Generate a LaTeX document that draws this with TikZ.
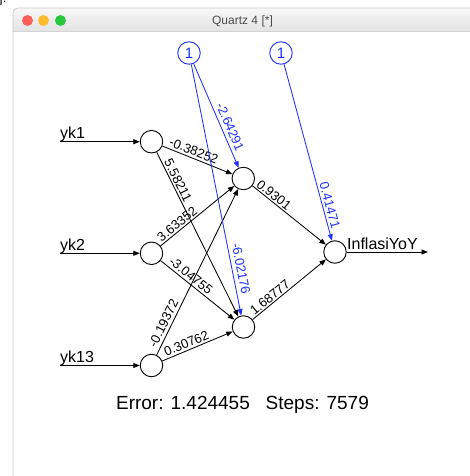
\documentclass[tikz,border=0pt]{standalone}
\usepackage{fontspec}
\setmainfont{Liberation Sans}
\usetikzlibrary{arrows.meta}
\definecolor{tlred}{HTML}{FC5F57}
\definecolor{tlyellow}{HTML}{FDBC2E}
\definecolor{tlgreen}{HTML}{2AC840}
\definecolor{rblue}{HTML}{1E32FF}
\begin{document}
\begin{tikzpicture}[x=1pt,y=-1pt,
  neuron/.style={circle, draw=black, line width=0.9pt, minimum size=22.5pt, inner sep=0pt, fill=white},
  biasnode/.style={circle, draw=rblue, text=rblue, line width=0.9pt, minimum size=22.5pt, inner sep=0pt, fill=white, font=\fontsize{15}{15}\selectfont},
  conn/.style={line width=0.85pt, -{Triangle[length=6.5pt,width=5pt]}},
  bconn/.style={conn, draw=rblue},
  wt/.style={sloped, inner sep=0pt, font=\fontsize{13}{13}\selectfont},
  bwt/.style={wt, text=rblue},
  io/.style={font=\fontsize{16}{16}\selectfont, inner sep=0pt, anchor=base west}
]
\useasboundingbox (0,0) rectangle (470,476);
\fill[white] (0,0) rectangle (470,476);
% window chrome
\node[anchor=base west, inner sep=0pt, font=\fontsize{13}{13}\selectfont] (frag) at (-1,2.5) {]:};
\shade[top color=gray!6, bottom color=gray!22] (13,31) [rounded corners=5pt] -- (13,8) -- (485,8) [sharp corners] -- (485,31) -- cycle;
\draw[gray!40, line width=0.8pt] (13,476) [rounded corners=5pt] -- (13,8) -- (485,8);
\draw[gray!35, line width=0.6pt] (13,31) -- (470,31);
\fill[tlred] (27.5,20.5) circle (5.5pt);
\fill[tlyellow] (43.5,20.5) circle (5.5pt);
\fill[tlgreen] (60.5,20.5) circle (5.5pt);
\node[anchor=base, inner sep=0pt, text=black!70, font=\fontsize{12}{12}\selectfont] (title) at (242.5,24.5) {Quartz 4 [*]};
% neurons
\node[neuron] (i1) at (151.5,141.7) {};
\node[neuron] (i2) at (151.5,253.3) {};
\node[neuron] (i3) at (151.5,365.5) {};
\node[neuron] (h1) at (243.3,178.5) {};
\node[neuron] (h2) at (243.5,327) {};
\node[neuron] (o) at (335,252) {};
\node[biasnode] (b1) at (189,53) {1};
\node[biasnode] (b2) at (281,53) {1};
% inputs and output
\coordinate (s1) at (60,141.7);
\coordinate (s2) at (60,253.3);
\coordinate (s3) at (60,365.5);
\coordinate (e) at (428,252);
\draw[conn] (s1) -- (i1);
\draw[conn] (s2) -- (i2);
\draw[conn] (s3) -- (i3);
\draw[conn] (o) -- (e);
\node[io] (l1) at (60,138.5) {yk1};
\node[io] (l2) at (60,250) {yk2};
\node[io] (l3) at (60,362) {yk13};
\node[io] (lo) at (347,249) {InflasiYoY};
% weights
\draw[conn] (i1) -- (h1) node[wt, pos=0.41, above=2.2pt] {-0.38252};
\draw[conn] (i1) -- (h2) node[wt, pos=0.19, above=1.6pt] {5.58211};
\draw[conn] (i2) -- (h1) node[wt, pos=0.28, above=1.5pt] {3.63352};
\draw[conn] (i2) -- (h2) node[wt, pos=0.35, above=2.2pt] {-3.04755};
\draw[conn] (i3) -- (h1) node[wt, pos=0.17, above=2.8pt] {-0.19372};
\draw[conn] (i3) -- (h2) node[wt, pos=0.38, above=1.9pt] {0.30762};
\draw[conn] (h1) -- (o) node[wt, pos=0.24, above=1.2pt] {0.9301};
\draw[conn] (h2) -- (o) node[wt, pos=0.29, above=1.2pt] {1.68777};
\draw[bconn] (b1) -- (h1) node[bwt, pos=0.64, above=3.5pt] {-2.64291};
\draw[bconn] (b1) -- (h2) node[bwt, pos=0.82, above=4pt] {-6.02176};
\draw[bconn] (b2) -- (o) node[bwt, pos=0.81, above=2.2pt] {0.41471};
% info
\node[anchor=base, inner sep=0pt, font=\fontsize{19}{19}\selectfont] (info) at (242.5,409) {Error: 1.424455\ \ \ Steps: 7579};
\end{tikzpicture}
\end{document}
